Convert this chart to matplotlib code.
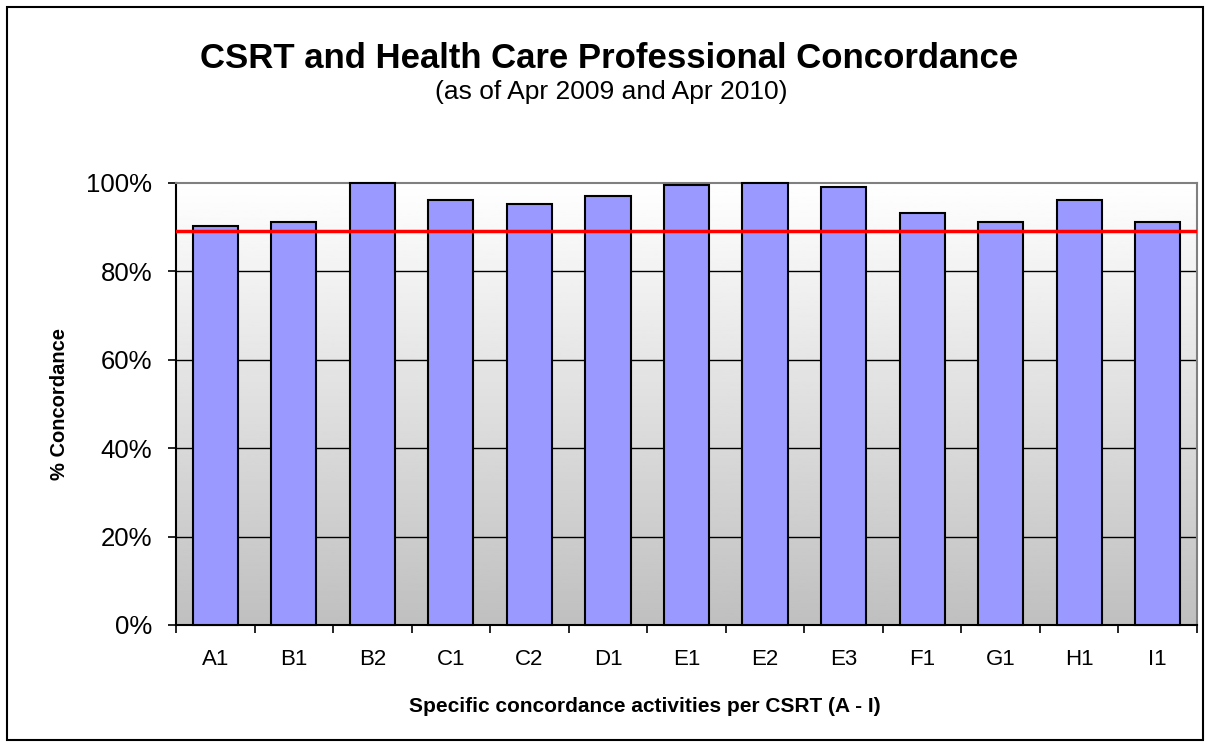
import numpy as np
import matplotlib.pyplot as plt
from matplotlib.patches import Rectangle

plt.rcParams['font.family'] = ['Liberation Sans', 'DejaVu Sans']

# data
activities = ['A1', 'B1', 'B2', 'C1', 'C2', 'D1', 'E1', 'E2', 'E3', 'F1', 'G1', 'H1', 'I1']
concordance = [90.3, 91.2, 100.0, 96.1, 95.2, 97.1, 99.6, 100.0, 99.2, 93.3, 91.2, 96.1, 91.2]
target = 89.2
yticks = [0, 20, 40, 60, 80, 100]

fig = plt.figure(figsize=(12.08, 7.47), dpi=100)
fig.patches.append(Rectangle((7 / 1208, 7 / 747), 1196 / 1208, 733 / 747,
                             transform=fig.transFigure, fill=False,
                             edgecolor='black', linewidth=1.5))

ax = fig.add_axes([176 / 1208, (747 - 625) / 747, (1197 - 176) / 1208, (625 - 183) / 747])

x = np.arange(len(activities))
ax.set_xlim(-0.5, len(activities) - 0.5)
ax.set_ylim(0, 100)

# gradient background: white at top, grey at bottom
grad = np.linspace(0.75, 1.0, 256).reshape(-1, 1)
ax.imshow(grad, cmap='gray', vmin=0, vmax=1, origin='lower', aspect='auto',
          extent=(-0.5, len(activities) - 0.5, 0, 100), zorder=0)

for t in yticks[1:-1]:
    ax.axhline(t, color='black', linewidth=1, zorder=1)

bars = ax.bar(x, concordance, width=0.575, color='#9999FF', edgecolor='black',
              linewidth=1.5, zorder=2.6)
for b in bars:
    b.set_clip_on(False)
ax.axhline(target, color='#FF0000', linewidth=2.5, zorder=3)

ax.set_yticks(yticks)
ax.set_yticklabels([f'{t}%' for t in yticks], fontsize=18.5)
ax.set_xticks(x)
ax.set_xticklabels(activities, fontsize=16)
ax.set_xticks(np.arange(len(activities) + 1) - 0.5, minor=True)
ax.tick_params(axis='x', which='major', length=0, pad=17)
ax.tick_params(axis='x', which='minor', length=6, width=1.2, direction='out')
ax.tick_params(axis='y', length=6, width=1.2, direction='out', pad=11)

for side in ['top', 'right']:
    ax.spines[side].set_color('#808080')
    ax.spines[side].set_linewidth(1.5)
for side in ['left', 'bottom']:
    ax.spines[side].set_color('black')
    ax.spines[side].set_linewidth(1.5)

fig.text(60 / 1208, 1 - 404 / 747, '% Concordance', rotation=90,
         ha='center', va='center', fontsize=14.5, fontweight='bold')
fig.text(645 / 1208, 1 - 706 / 747, 'Specific concordance activities per CSRT (A - I)',
         ha='center', va='center', fontsize=15, fontweight='bold')

fig.text(609 / 1208, 1 - 58 / 747, 'CSRT and Health Care Professional Concordance',
         ha='center', va='center', fontsize=25, fontweight='bold')
fig.text(611 / 1208, 1 - 92 / 747, '(as of Apr 2009 and Apr 2010)',
         ha='center', va='center', fontsize=19)

fig.savefig('out.png', dpi=100)
